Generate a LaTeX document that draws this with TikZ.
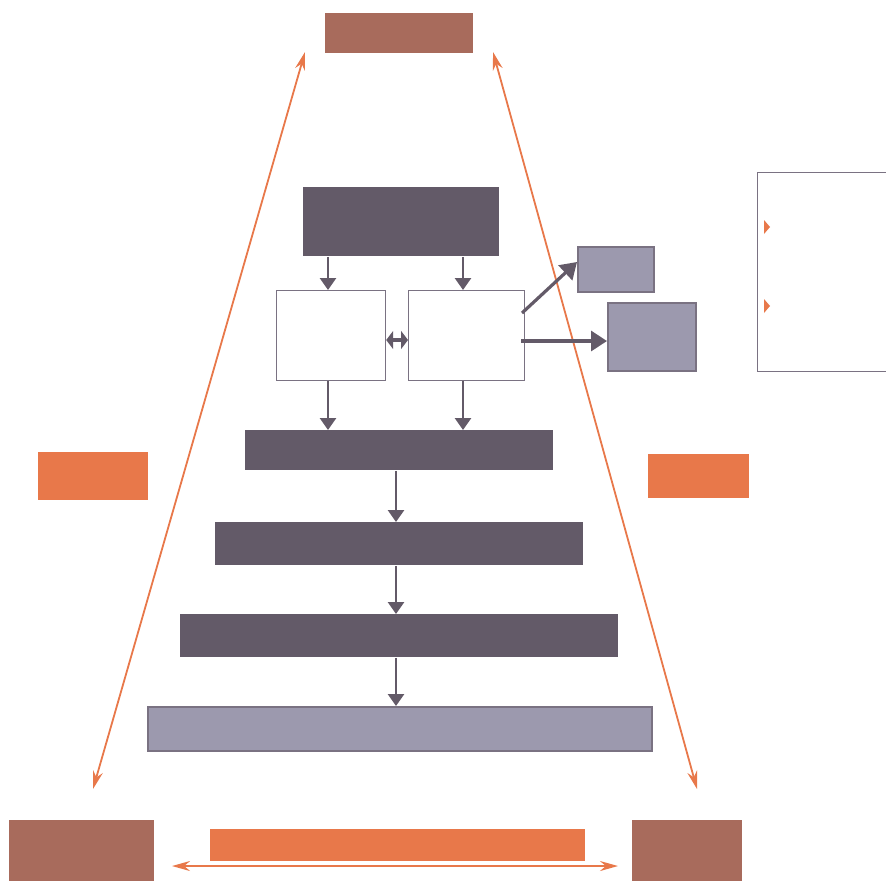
\documentclass[tikz,border=0pt]{standalone}
\usetikzlibrary{arrows.meta}
\definecolor{brownc}{HTML}{A86B5C}
\definecolor{orangec}{HTML}{E8784A}
\definecolor{darkc}{HTML}{635A68}
\definecolor{lightc}{HTML}{9C99AE}
\definecolor{edgec}{HTML}{7A7282}
\tikzset{
  brownbox/.style={fill=brownc, draw=none},
  orangebox/.style={fill=orangec, draw=none},
  darkbox/.style={fill=darkc, draw=none},
  lightbox/.style={fill=lightc, draw=edgec, line width=0.8pt},
  whitebox/.style={fill=white, draw=edgec, line width=0.6pt},
  darrow/.style={draw=darkc, line width=1.3pt, -{Triangle[width=8pt,length=6pt]}},
  darrowb/.style={draw=darkc, line width=1.6pt, -{Triangle[width=10pt,length=8pt]}},
  oarrow/.style={draw=orangec, line width=0.9pt, {Stealth[width=5pt,length=9pt]}-{Stealth[width=5pt,length=9pt]}},
}
\begin{document}
\begin{tikzpicture}[x=0.5pt,y=-0.5pt]
\useasboundingbox (0,0) rectangle (886,880);
\clip (0,0) rectangle (886,880);
% top
\path[brownbox] (325,13) rectangle (473,53);
\coordinate (topL) at (305,52);
\coordinate (topR) at (493,52);
\coordinate (botL) at (93,789);
\coordinate (botR) at (697,789);
\draw[oarrow] (topL) -- (botL);
\draw[oarrow] (topR) -- (botR);
% dark top box
\node[darkbox, minimum width=98pt, minimum height=34.5pt, inner sep=0, anchor=north west] (d0) at (303,187) {};
% white boxes
\node[whitebox, minimum width=54.5pt, minimum height=45pt, inner sep=0, anchor=north west] (wl) at (276,290) {};
\node[whitebox, minimum width=58pt, minimum height=45pt, inner sep=0, anchor=north west] (wr) at (408,290) {};
% light boxes
\node[lightbox, minimum width=38pt, minimum height=22.5pt, inner sep=0, anchor=north west] (l1) at (577,246) {};
\node[lightbox, minimum width=44pt, minimum height=34pt, inner sep=0, anchor=north west] (l2) at (607,302) {};
% frame on right
\node[whitebox, minimum width=75pt, minimum height=99.5pt, inner sep=0, anchor=north west] (fr) at (757,172) {};
\fill[orangec] (764,220) -- (770,227) -- (764,234) -- cycle;
\fill[orangec] (764,299) -- (770,306) -- (764,313) -- cycle;
% bars
\node[darkbox, minimum width=154pt, minimum height=20pt, inner sep=0, anchor=north west] (b1) at (245,430) {};
\node[darkbox, minimum width=184pt, minimum height=21.5pt, inner sep=0, anchor=north west] (b2) at (215,522) {};
\node[darkbox, minimum width=219pt, minimum height=21.5pt, inner sep=0, anchor=north west] (b3) at (180,614) {};
\node[lightbox, minimum width=252pt, minimum height=22pt, inner sep=0, anchor=north west] (b4) at (147,706) {};
% side orange
\node[orangebox, minimum width=55pt, minimum height=24pt, inner sep=0, anchor=north west] (ol) at (38,452) {};
\node[orangebox, minimum width=50.5pt, minimum height=22pt, inner sep=0, anchor=north west] (or) at (648,454) {};
% bottom
\node[brownbox, minimum width=72.5pt, minimum height=35pt, inner sep=0, anchor=north west] (bl) at (9,820) {};
\node[brownbox, minimum width=55pt, minimum height=35pt, inner sep=0, anchor=north west] (br) at (632,820) {};
\node[orangebox, minimum width=187.5pt, minimum height=16pt, inner sep=0, anchor=north west] (ob) at (210,829) {};
\coordinate (hl) at (172,866);
\coordinate (hr) at (618,866);
\draw[oarrow] (hl) -- (hr);
% dark arrows
\draw[darrow] (d0.south -| 328,0) -- (wl.north -| 328,0);
\draw[darrow] (d0.south -| 463,0) -- (wr.north -| 463,0);
\draw[darrow] (wl.south -| 328,0) -- (b1.north -| 328,0);
\draw[darrow] (wr.south -| 463,0) -- (b1.north -| 463,0);
\draw[darrowb, {Triangle[width=9pt,length=3.5pt]}-{Triangle[width=9pt,length=3.5pt]}] (wl.east |- 0,340) -- (wr.west |- 0,340);
\coordinate (l1in) at (577,262);
\draw[darrowb] (522,313) -- (l1in);
\draw[darrowb] (521,341) -- (l2.west |- 0,341);
\draw[darrow] (b1.south -| 396,0) -- (b2.north -| 396,0);
\draw[darrow] (b2.south -| 396,0) -- (b3.north -| 396,0);
\draw[darrow] (b3.south -| 396,0) -- (b4.north -| 396,0);
\end{tikzpicture}
\end{document}
